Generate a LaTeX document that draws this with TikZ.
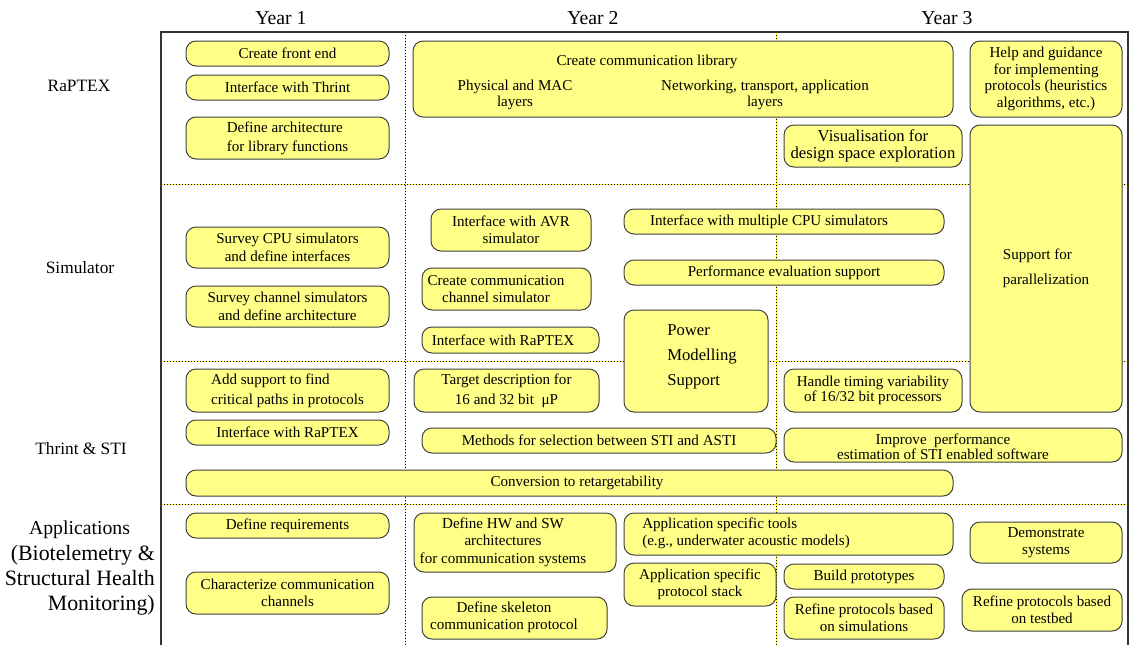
\documentclass[tikz,border=0pt]{standalone}
\usepackage{fontspec}
\setmainfont{Liberation Serif}
\definecolor{boxy}{RGB}{255,255,136}
\definecolor{divyel}{RGB}{255,235,40}
\tikzset{
  box/.style={draw=black!75, fill=boxy, rounded corners=7.5pt, line width=0.75pt,
    inner sep=0pt, align=center, font=\fontsize{11.3}{13}\selectfont},
  txt/.style={inner sep=0pt, align=center, font=\fontsize{11.3}{13}\selectfont},
  lab/.style={inner sep=0pt, align=center, font=\fontsize{14.8}{18.75}\selectfont},
  rowlab/.style={inner sep=0pt, align=center, font=\fontsize{13}{18.75}\selectfont},
  applab/.style={inner sep=0pt, align=right, font=\fontsize{16.4}{18.75}\selectfont},
  frameline/.style={draw=black!80, line width=0.8pt},
  divbase/.style={draw=divyel, line width=0.7pt},
  divdots/.style={draw=black, line width=0.7pt, dash pattern=on 0.75pt off 1.5pt},
}
% box: [opts]{x1}{y1}{x2}{y2}{name}{text}
\newcommand\bx[7][]{\node[box,minimum width={(#4-#2)*0.75pt},minimum height={(#5-#3)*0.75pt},#1] (#6) at ({(#2+#4)/2},{(#3+#5)/2}) {#7};}
% text: [opts]{x}{y}{name}{text}
\newcommand\tx[5][]{\node[txt,#1] (#4) at (#2,#3) {#5};}
\begin{document}
\begin{tikzpicture}[x=0.75pt,y=-0.75pt]
\useasboundingbox (0,0) rectangle (1130,644);
% year labels
\node[lab] (y1) at (281,18) {Year 1};
\node[lab] (y2) at (593,18) {Year 2};
\node[lab] (y3) at (947,18) {Year 3};
% row labels
\node[rowlab] (r1) at (79,86) {RaPTEX};
\node[rowlab] (r2) at (80,268) {Simulator};
\node[rowlab] (r3) at (81,449) {Thrint \& STI};
\node[lab] (r4) at (79.5,530) {Applications};
\node[applab,anchor=east] (r4b) at (155,580) {(Biotelemetry \&\\Structural Health\\Monitoring)};
% frame corners
\coordinate (fbl) at (161,646);
\coordinate (ftl) at (161,32);
\coordinate (ftr) at (1128,32);
\coordinate (fbr) at (1128,646);
% dividers
\coordinate (h1a) at (161,184); \coordinate (h1b) at (1128,184);
\coordinate (h2a) at (161,361); \coordinate (h2b) at (1128,361);
\coordinate (h3a) at (161,504); \coordinate (h3b) at (1128,504);
\coordinate (v1a) at (405,32); \coordinate (v1b) at (405,646);
\coordinate (v2a) at (776,32); \coordinate (v2b) at (776,646);
\foreach \a/\b in {h1a/h1b,h2a/h2b,h3a/h3b,v1a/v1b,v2a/v2b}{
  \draw[divbase] (\a) -- (\b);
  \draw[divdots] (\a) -- (\b);
}
\draw[frameline] (fbl) -- (ftl) -- (ftr) -- (fbr);
% ---- RaPTEX row
\bx{186}{41}{389}{66}{cfe}{Create front end}
\bx{186}{75}{389}{100}{ithr}{Interface with Thrint}
\bx[align=left,font=\fontsize{11.3}{14.25}\selectfont]{186}{117}{389}{159}{defarch}{Define architecture\\for library functions}
\bx{413}{41}{953}{117}{ccl}{}
\tx{647}{62}{ccl-t}{Create communication library}
\tx[font=\fontsize{11.3}{12}\selectfont]{515}{95}{ccl-a}{Physical and MAC\\layers}
\tx[font=\fontsize{11.3}{12}\selectfont]{765}{95}{ccl-b}{Networking, transport, application\\layers}
\bx[font=\fontsize{11.3}{12.5}\selectfont]{970}{41}{1122}{117}{help}{Help and guidance\\for implementing\\protocols (heuristics\\algorithms, etc.)}
\bx[font=\fontsize{12.5}{12.75}\selectfont]{784}{125}{962}{167}{vis}{Visualisation for\\design space exploration}
\bx[align=left,font=\fontsize{11.3}{18.75}\selectfont]{970}{125}{1122}{412}{par}{Support for\\parallelization}
% ---- Simulator row
\bx{186}{227}{389}{268}{survcpu}{Survey CPU simulators\\and define interfaces}
\bx{186}{286}{389}{327}{survch}{Survey channel simulators\\and define architecture}
\bx{431}{209}{591}{251}{avr}{Interface with AVR\\simulator}
\bx{422}{268}{591}{310}{ccs}{}
\tx{496}{289}{ccs-t}{Create communication\\channel simulator}
\bx{422}{327}{599}{353}{irap1}{}
\tx{503}{340}{irap1-t}{Interface with RaPTEX}
\bx{624}{209}{944}{234}{imcpu}{}
\tx{769}{222}{imcpu-t}{Interface with multiple CPU simulators}
\bx{624}{260}{944}{285}{perf}{Performance evaluation support}
\bx{624}{310}{768}{412}{power}{}
\tx[align=left,font=\fontsize{12.5}{18.75}\selectfont]{702}{357}{power-t}{Power\\Modelling\\Support}
% ---- Thrint & STI row
\bx[align=left,font=\fontsize{11.3}{15}\selectfont]{186}{369}{389}{412}{addsup}{Add support to find\\critical paths in protocols}
\bx{186}{420}{389}{445}{irap2}{Interface with RaPTEX}
\bx{186}{470}{953}{496}{conv}{}
\tx{577}{483}{conv-t}{Conversion to retargetability}
\bx[font=\fontsize{11.3}{15}\selectfont]{414}{369}{599}{412}{target}{Target description for\\16 and 32 bit \ μP}
\bx{422}{428}{776}{453}{methods}{Methods for selection between STI and ASTI}
\bx[font=\fontsize{11.3}{11.25}\selectfont]{784}{369}{962}{412}{handle}{Handle timing variability\\of 16/32 bit processors}
\bx{784}{428}{1122}{462}{improve}{}
\tx[font=\fontsize{11.3}{9.75}\selectfont]{943}{447}{improve-t}{Improve \ performance\\estimation of STI enabled software}
% ---- Applications row
\bx{186}{513}{389}{538}{defreq}{Define requirements}
\bx{186}{572}{389}{614}{charc}{Characterize communication\\channels}
\bx{414}{513}{616}{572}{defhw}{}
\tx{503}{542}{defhw-t}{Define HW and SW\\architectures\\for communication systems}
\bx{422}{597}{607}{639}{skel}{}
\tx{504}{617.5}{skel-t}{Define skeleton\\communication protocol}
\bx{624}{513}{953}{555}{apptools}{}
\tx[anchor=west,align=left]{642}{533.5}{apptools-t}{Application specific tools\\(e.g., underwater acoustic models)}
\bx{624}{563}{776}{606}{appstack}{Application specific\\protocol stack}
\bx{970}{522}{1122}{563}{demo}{Demonstrate\\systems}
\bx{784}{564}{944}{589}{build}{Build prototypes}
\bx{784}{597}{944}{639}{refsim}{Refine protocols based\\on simulations}
\bx{962}{589}{1122}{631}{reftest}{Refine protocols based\\on testbed}
\end{tikzpicture}
\end{document}
